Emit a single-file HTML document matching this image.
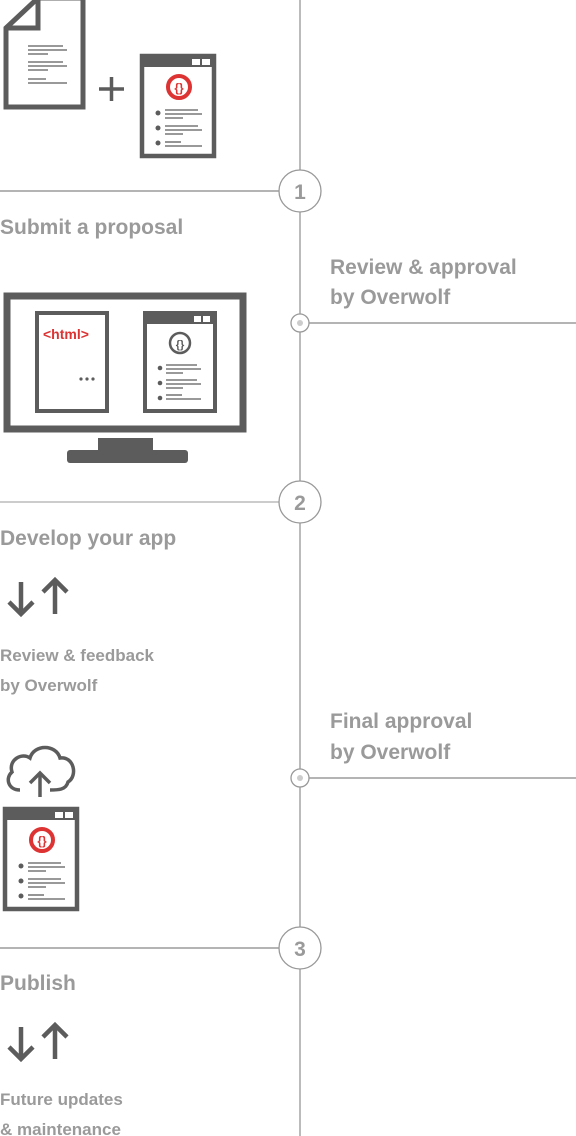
<!DOCTYPE html>
<html><head><meta charset="utf-8"><style>
html,body{margin:0;padding:0;background:#fff;width:576px;height:1136px;overflow:hidden}
svg{display:block}
text{font-family:"Liberation Sans",sans-serif;font-weight:bold;fill:#9a9a9a}
</style></head><body>
<svg width="576" height="1136" viewBox="0 0 576 1136" xmlns="http://www.w3.org/2000/svg">
<defs>
<g id="spec">
  <rect x="0" y="0" width="72" height="100" fill="#fff" stroke="#5c5c5c" stroke-width="4.5"/>
  <rect x="0" y="0" width="72" height="11" fill="#5c5c5c"/>
  <rect x="50" y="3" width="8" height="6" fill="#fff"/><rect x="60" y="3" width="8" height="6" fill="#fff"/>
  <circle cx="37" cy="31" r="11" fill="none" stroke="#d33" stroke-width="4"/>
  <text x="37" y="36" text-anchor="middle" font-size="12" style="fill:#d33">{}</text>
  <g fill="#5c5c5c"><circle cx="16" cy="57" r="2.5"/><circle cx="16" cy="72" r="2.5"/><circle cx="16" cy="87" r="2.5"/></g>
  <g stroke="#5c5c5c" stroke-width="1.3">
    <line x1="23" y1="54" x2="56" y2="54"/><line x1="23" y1="58" x2="60" y2="58"/><line x1="23" y1="62" x2="41" y2="62"/>
    <line x1="23" y1="70" x2="56" y2="70"/><line x1="23" y1="74" x2="60" y2="74"/><line x1="23" y1="78" x2="41" y2="78"/>
    <line x1="23" y1="86" x2="39" y2="86"/><line x1="23" y1="90" x2="60" y2="90"/>
  </g>
</g>
<g id="arrows" fill="none" stroke="#5c5c5c" stroke-width="4.5">
  <line x1="21" y1="582" x2="21" y2="613"/><polyline points="9,602 21,614 33,602"/>
  <line x1="55" y1="580" x2="55" y2="614"/><polyline points="43,592 55,580 67,592"/>
</g>
</defs>

<line x1="300" y1="0" x2="300" y2="1136" stroke="#bbb" stroke-width="2"/>
<line x1="0" y1="191" x2="279" y2="191" stroke="#888" stroke-width="1.3"/>
<line x1="0" y1="502" x2="279" y2="502" stroke="#bbb" stroke-width="1.5"/>
<line x1="0" y1="948" x2="279" y2="948" stroke="#888" stroke-width="1.3"/>
<line x1="309" y1="323" x2="576" y2="323" stroke="#888" stroke-width="1.3"/>
<line x1="309" y1="778" x2="576" y2="778" stroke="#888" stroke-width="1.3"/>
<g fill="#fff" stroke="#999" stroke-width="1.3">
  <circle cx="300" cy="191" r="21"/><circle cx="300" cy="502" r="21"/><circle cx="300" cy="948" r="21"/>
  <circle cx="300" cy="323" r="9"/><circle cx="300" cy="778" r="9"/>
</g>
<circle cx="300" cy="323" r="3" fill="#ccc"/><circle cx="300" cy="778" r="3" fill="#ccc"/>
<text x="300" y="199" text-anchor="middle" font-size="21">1</text>
<text x="300" y="510" text-anchor="middle" font-size="21">2</text>
<text x="300" y="956" text-anchor="middle" font-size="21">3</text>

<path d="M6,28 L38,-2 L83,-2 L83,107 L6,107 Z" fill="#fff" stroke="#5c5c5c" stroke-width="5"/>
<path d="M6,28 L38,28 L38,-2" fill="none" stroke="#5c5c5c" stroke-width="5"/>
<g stroke="#5c5c5c" stroke-width="1.3">
  <line x1="28" y1="46" x2="63" y2="46"/><line x1="28" y1="50" x2="67" y2="50"/><line x1="28" y1="54" x2="48" y2="54"/>
  <line x1="28" y1="62" x2="63" y2="62"/><line x1="28" y1="66" x2="67" y2="66"/><line x1="28" y1="70" x2="48" y2="70"/>
  <line x1="28" y1="79" x2="46" y2="79"/><line x1="28" y1="83" x2="67" y2="83"/>
</g>
<g stroke="#5c5c5c" stroke-width="3.5"><line x1="99" y1="89" x2="124" y2="89"/><line x1="111.5" y1="77" x2="111.5" y2="101"/></g>
<use href="#spec" transform="translate(142,56)"/>

<text x="0" y="234" font-size="21">Submit a proposal</text>
<text x="330" y="274" font-size="21">Review &amp; approval</text>
<text x="330" y="304" font-size="21">by Overwolf</text>

<rect x="7" y="296" width="236" height="133" fill="#fff" stroke="#5c5c5c" stroke-width="7"/>
<rect x="37" y="313" width="70" height="98" fill="#fff" stroke="#5c5c5c" stroke-width="4"/>
<text x="43" y="339" font-size="14" style="fill:#d33">&lt;html&gt;</text>
<g fill="#5c5c5c"><circle cx="81" cy="379" r="1.6"/><circle cx="87" cy="379" r="1.6"/><circle cx="93" cy="379" r="1.6"/></g>
<rect x="145" y="313" width="70" height="98" fill="#fff" stroke="#5c5c5c" stroke-width="4"/>
<rect x="145" y="313" width="70" height="11" fill="#5c5c5c"/>
<rect x="194" y="316" width="7" height="6" fill="#fff"/><rect x="203" y="316" width="7" height="6" fill="#fff"/>
<circle cx="180" cy="343" r="10" fill="none" stroke="#5c5c5c" stroke-width="2.5"/>
<text x="180" y="348" text-anchor="middle" font-size="11" style="fill:#5c5c5c">{}</text>
<g fill="#5c5c5c"><circle cx="160" cy="368" r="2.3"/><circle cx="160" cy="383" r="2.3"/><circle cx="160" cy="398" r="2.3"/></g>
<g stroke="#5c5c5c" stroke-width="1.3">
  <line x1="166" y1="365" x2="197" y2="365"/><line x1="166" y1="369" x2="201" y2="369"/><line x1="166" y1="373" x2="183" y2="373"/>
  <line x1="166" y1="380" x2="197" y2="380"/><line x1="166" y1="384" x2="201" y2="384"/><line x1="166" y1="388" x2="183" y2="388"/>
  <line x1="166" y1="395" x2="182" y2="395"/><line x1="166" y1="399" x2="201" y2="399"/>
</g>
<rect x="98" y="438" width="55" height="14" fill="#5c5c5c"/>
<rect x="67" y="450" width="121" height="13" rx="3" fill="#5c5c5c"/>

<text x="0" y="545" font-size="21">Develop your app</text>
<use href="#arrows"/>
<text x="0" y="661" font-size="17">Review &amp; feedback</text>
<text x="0" y="691" font-size="17">by Overwolf</text>

<text x="330" y="728" font-size="21">Final approval</text>
<text x="330" y="759" font-size="21">by Overwolf</text>

<path d="M20,790 C8,790 5,778 12,772 C8,760 22,752 30,758 C34,744 56,744 60,758 C74,756 78,776 68,782 C66,790 58,790 50,790" fill="none" stroke="#5c5c5c" stroke-width="3.5"/>
<g stroke="#5c5c5c" stroke-width="3.5" fill="none"><line x1="40" y1="797" x2="40" y2="773"/><polyline points="30,783 40,773 50,783"/></g>
<use href="#spec" transform="translate(5,809)"/>

<text x="0" y="990" font-size="21">Publish</text>
<use href="#arrows" transform="translate(0,445)"/>
<text x="0" y="1105" font-size="17">Future updates</text>
<text x="0" y="1135" font-size="17">&amp; maintenance</text>
</svg>
</body></html>
